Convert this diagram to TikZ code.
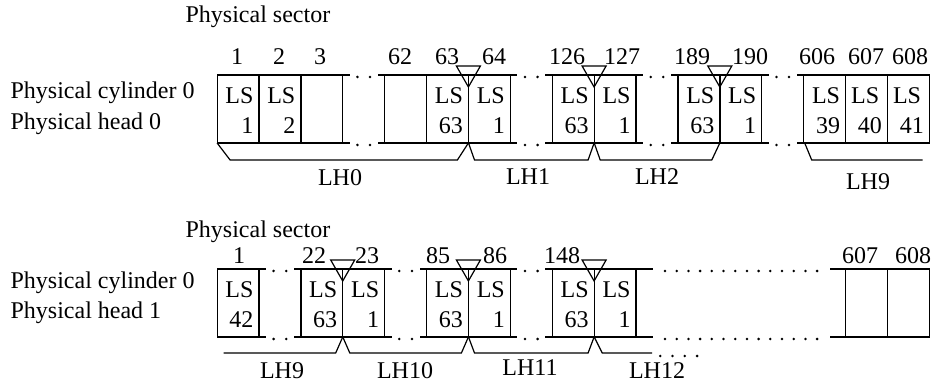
\documentclass[tikz,border=0pt]{standalone}
\usepackage{fontspec}
\setmainfont{Liberation Serif}
\usetikzlibrary{calc}

\begin{document}
\begin{tikzpicture}[x=0.5pt,y=-0.5pt,line width=0.6pt,font=\fontsize{12}{15}\selectfont]
\tikzset{
  sectorcell/.style={draw,outer sep=0pt,minimum height=34pt,text width=15.4pt,text height=10pt,inner xsep=2.75pt,inner ysep=0pt,align=right},
  rowlabel/.style={anchor=base west,inner sep=0pt},
  secnum/.style={anchor=base,inner sep=0pt},
  headlabel/.style={anchor=base,inner sep=0pt}
}
\useasboundingbox (0,0) rectangle (936,383);

% upper track: cylinder 0, head 0
\node[rowlabel] (sector_top) at (185,23) {Physical sector};
\node[rowlabel] (cyl_top) at (10,99) {Physical cylinder 0};
\node[rowlabel] (head_top) at (10,130) {Physical head 0};
\node[sectorcell] (t_1) at (238.0,109) {LS\\1};
\node[sectorcell] (t_2) at (279.9,109) {LS\\2};
\node[sectorcell] (t_3) at (321.8,109) {};
\node[sectorcell] (t_62) at (405.6,109) {};
\node[sectorcell] (t_63) at (447.5,109) {LS\\63};
\node[sectorcell] (t_64) at (489.4,109) {LS\\1};
\node[sectorcell] (t_126) at (573.2,109) {LS\\63};
\node[sectorcell] (t_127) at (615.1,109) {LS\\1};
\node[sectorcell] (t_189) at (698.9,109) {LS\\63};
\node[sectorcell] (t_190) at (740.8,109) {LS\\1};
\node[sectorcell] (t_606) at (824.6,109) {LS\\39};
\node[sectorcell] (t_607) at (866.5,109) {LS\kern4pt\\40};
\node[sectorcell] (t_608) at (908.4,109) {LS\kern4pt\\41};
\foreach \n/\x in {1/237,2/279,3/320,62/400,63/447,64/494,126/567,127/622,189/692,190/750,606/817,607/866,608/910}
  \node[secnum] (tn_\n) at (\x,65) {\n};

% lower track: cylinder 0, head 1
\node[rowlabel] (sector_bot) at (185,238) {Physical sector};
\node[rowlabel] (cyl_bot) at (10,289) {Physical cylinder 0};
\node[rowlabel] (head_bot) at (10,319) {Physical head 1};
\node[sectorcell] (b_1) at (238.0,303) {LS\\42};
\node[sectorcell] (b_22) at (321.8,303) {LS\\63};
\node[sectorcell] (b_23) at (363.7,303) {LS\\1};
\node[sectorcell] (b_85) at (447.5,303) {LS\\63};
\node[sectorcell] (b_86) at (489.4,303) {LS\\1};
\node[sectorcell] (b_148) at (573.2,303) {LS\\63};
\node[sectorcell] (b_149) at (615.1,303) {LS\\1};
\node[sectorcell] (b_607) at (866.5,303) {};
\node[sectorcell] (b_608) at (908.4,303) {};
\foreach \n/\x in {1/239,22/314,23/367,85/438,86/495,148/562,607/860,608/913}
  \node[secnum] (bn_\n) at (\x,264) {\n};

% skipped sectors
\foreach \a/\b in {t_3/t_62,t_64/t_126,t_127/t_189,t_190/t_606,b_1/b_22,b_23/b_85,b_86/b_148} {
  \draw (\a.north east) -- ++(7,0) (\a.south east) -- ++(7,0)
        (\b.north west) -- ++(-7,0) (\b.south west) -- ++(-7,0);
  \foreach \f in {0.35,0.65} {
    \fill ($(\a.north east)!\f!(\b.north west)+(0,2)$) circle (0.7pt);
    \fill ($(\a.south east)!\f!(\b.south west)+(0,2)$) circle (0.7pt);
  }
}
\draw (b_149.north east) -- ++(17,0) (b_149.south east) -- ++(17,0)
      (b_607.north west) -- ++(-16,0) (b_607.south west) -- ++(-16,0);
\foreach \i in {0,...,13} {
  \fill ([shift={(29+11.7*\i,2)}]b_149.north east) circle (0.7pt);
  \fill ([shift={(29+11.7*\i,2)}]b_149.south east) circle (0.7pt);
}

% head boundaries
\foreach \c in {t_63,t_126,t_189,b_22,b_85,b_148}
  \draw ([shift={(-12,-9)}]\c.north east) -- ++(24,0) -- ([shift={(0,12)}]\c.north east) -- cycle;

% logical heads
\draw (t_1.south west) -- ++(13,17) -- ([shift={(-11,17)}]t_63.south east) -- (t_63.south east);
\draw (t_64.south west) -- ++(6,17) -- ([shift={(-6,17)}]t_126.south east) -- (t_126.south east);
\draw (t_127.south west) -- ++(6,17) -- ([shift={(-8,17)}]t_189.south east) -- (t_189.south east);
\draw ([xshift=0.5pt]t_606.south west) -- ++(7,17) -- ++(111,0);
\draw (b_22.south east) -- ++(-7,16) -- ++(-112,0);
\draw (b_23.south west) -- ++(7,16) -- ([shift={(-7,16)}]b_85.south east) -- (b_85.south east);
\draw (b_86.south west) -- ++(6,16) -- ([shift={(-6,16)}]b_148.south east) -- (b_148.south east);
\draw (b_149.south west) -- ++(8,16) -- ++(50,0);
\foreach \i in {0,...,3}
  \fill ([shift={(66+12.3*\i,19)}]b_149.south west) circle (0.7pt);
\node[headlabel] (lh_0) at (340,186) {LH0};
\node[headlabel] (lh_1) at (528,185) {LH1};
\node[headlabel] (lh_2) at (657,185) {LH2};
\node[headlabel] (lh_9t) at (868,190) {LH9};
\node[headlabel] (lh_9) at (282,379) {LH9};
\node[headlabel] (lh_10) at (405,379) {LH10};
\node[headlabel] (lh_11) at (530,376) {LH11};
\node[headlabel] (lh_12) at (657,379) {LH12};
\end{tikzpicture}
\end{document}
